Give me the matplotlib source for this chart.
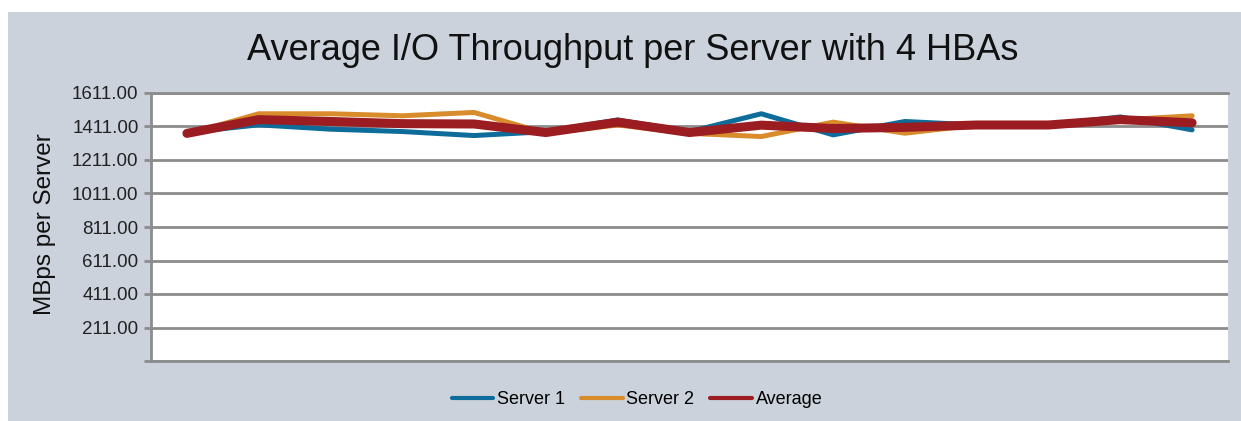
import matplotlib.pyplot as plt
import numpy as np
from matplotlib.patches import Rectangle

server1 = [1375, 1421, 1395, 1381, 1357, 1380, 1450, 1380, 1487, 1361, 1441, 1420, 1420, 1468, 1391]
server2 = [1365, 1487, 1487, 1475, 1495, 1370, 1420, 1370, 1351, 1437, 1371, 1420, 1420, 1450, 1475]
average = [1370, 1452, 1441, 1428, 1426, 1375, 1437, 1375, 1419, 1399, 1406, 1420, 1420, 1452, 1433]
series_names = ["Server 1", "Server 2", "Average"]
y_ticks = [11, 211, 411, 611, 811, 1011, 1211, 1411, 1611]

plt.rcParams['font.family'] = ['Liberation Sans', 'DejaVu Sans']

W, H = 1241, 421
fig = plt.figure(figsize=(W / 100, H / 100), dpi=100)
fig.patch.set_facecolor('white')

# fondo gris del grafico (margen blanco arriba y a la izquierda)
fig.patches.append(Rectangle((8 / W, 0), 1 - 8 / W, 1 - 12 / H, transform=fig.transFigure,
                             facecolor='#cbd2db', edgecolor='none', zorder=-10))

ax = fig.add_axes([151 / W, 1 - 361 / H, (1228 - 151) / W, (361 - 93) / H])
ax.set_zorder(1)
ax.set_facecolor('white')

x = np.arange(len(server1))
ax.plot(x, server1, color='#0e6c9b', lw=3.6, solid_capstyle='round', solid_joinstyle='round', label=series_names[0], zorder=3)
ax.plot(x, server2, color='#d98c2b', lw=3.6, solid_capstyle='round', solid_joinstyle='round', label=series_names[1], zorder=4)
ax.plot(x, average, color='#9b1c21', lw=6.5, solid_capstyle='round', solid_joinstyle='round', label=series_names[2], zorder=5)

ax.set_xlim(-0.5, len(x) - 0.5)
ax.set_ylim(y_ticks[0], y_ticks[-1])
ax.set_xticks([])
ax.set_yticks(y_ticks)
ax.set_yticklabels([''] + [f"{v:.2f}" for v in y_ticks[1:]], fontsize=13.5, color='#222222')
ax.tick_params(axis='y', length=5, width=2, color='#8c8c8c', pad=4)
ax.grid(axis='y', color='#8c8c8c', lw=2)
ax.set_axisbelow(True)

ax.spines['right'].set_visible(False)
for side in ['left', 'bottom', 'top']:
    ax.spines[side].set_color('#8c8c8c')
    ax.spines[side].set_linewidth(2)

ax.set_ylabel("MBps per Server", fontsize=17.5, color='#111111')
ax.yaxis.set_label_coords(-0.088, 0.51)

fig.text(633 / W, 1 - 60 / H, "Average I/O Throughput per Server with 4 HBAs",
         fontsize=26, ha='center', va='baseline', color='#111111')

leg = fig.legend(loc='center', bbox_to_anchor=(637 / W, 1 - 400 / H), ncol=3, frameon=False,
                 fontsize=13, handlelength=2.3, handletextpad=0.2, columnspacing=0.9)
for line in leg.get_lines():
    line.set_linewidth(3)

fig.savefig('out.png', dpi=100)
